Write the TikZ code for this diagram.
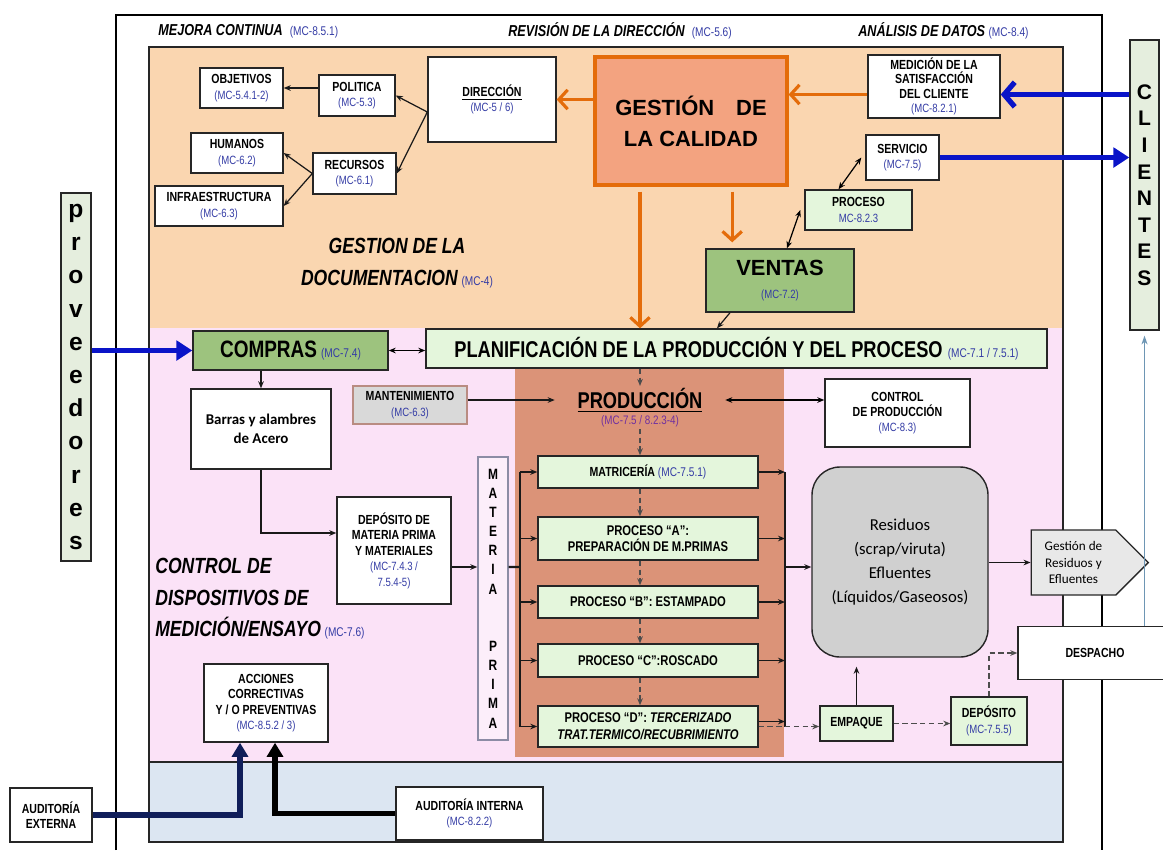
\documentclass[tikz,border=0pt]{standalone}
\usepackage{fontspec}
\setmainfont{Liberation Sans}
\newfontfamily\cond{Liberation Sans}[FakeStretch=0.8]
\newfontfamily\calib{Carlito}
\usetikzlibrary{arrows.meta,shapes.symbols,calc}

\definecolor{peach}{RGB}{250,214,176}
\definecolor{pinkbg}{RGB}{251,226,247}
\definecolor{bluebg}{RGB}{220,230,242}
\definecolor{prodcol}{RGB}{219,147,120}
\definecolor{gestfill}{RGB}{243,163,128}
\definecolor{gestline}{RGB}{228,108,10}
\definecolor{midgreen}{RGB}{157,195,126}
\definecolor{palegreen}{RGB}{228,246,220}
\definecolor{sidegreen}{RGB}{229,238,222}
\definecolor{mcblue}{RGB}{52,60,165}
\definecolor{mcpurple}{RGB}{112,48,160}
\definecolor{resgray}{RGB}{208,208,208}
\definecolor{lightgray}{RGB}{232,232,232}
\definecolor{navy}{RGB}{16,30,90}
\definecolor{arrowblue}{RGB}{10,20,200}
\definecolor{steel}{RGB}{110,150,180}

\newcommand\mc[1]{{\cond\mdseries\upshape\fontsize{6.8}{8}\selectfont\color{mcblue}#1}}
\newcommand\mcb[1]{{\cond\mdseries\upshape\fontsize{7.2}{8}\selectfont\color{mcblue}#1}}

\tikzset{
  box/.style={draw=black!85, line width=0.8pt, fill=white, align=center, inner sep=1pt,
    font=\cond\bfseries\fontsize{7.5}{8.7}\selectfont},
  sz/.style 2 args={minimum width=#1*0.02cm, minimum height=#2*0.02cm},
  gbox/.style={box, fill=palegreen},
  arr/.style={-{Stealth[length=4pt,width=3.2pt]}, line width=0.7pt, draw=black!90},
  barr/.style={{Stealth[length=4pt,width=3.2pt]}-{Stealth[length=4pt,width=3.2pt]}, line width=0.7pt},
  darr/.style={arr, dash pattern=on 3pt off 2pt, draw=black!70},
  orarr/.style={-{Straight Barb[length=5pt,width=11pt]}, line width=1.8pt, draw=gestline},
  bluearr/.style={-{Triangle[length=9pt,width=11pt]}, line width=3pt, draw=arrowblue},
  bus/.style={line width=1.4pt, draw=black!90},
  head/.style={font=\cond\bfseries\itshape\fontsize{9}{10}\selectfont, anchor=west, inner sep=0pt},
  bigital/.style={font=\cond\bfseries\itshape\fontsize{12.5}{18}\selectfont, inner sep=0pt},
}

\begin{document}
\begin{tikzpicture}[x=0.02cm, y=-0.02cm]
  \useasboundingbox (0,0) rectangle (1163,850);

    % Define the boundaries of the coloured regions
    \def\xl{149}    % left edge of the regions
    \def\xr{1063}   % right edge of the regions
    \def\ytop{47}   % top of the documentation region
    \def\ymid{328}  % documentation / production boundary
    \def\ylow{762}  % production / audit boundary
    \def\ybot{842}  % bottom of the audit region

    % -- Fill each region --
    \fill[peach]  (\xl,\ytop) rectangle (\xr,\ymid);
    \fill[pinkbg] (\xl,\ymid) rectangle (\xr,\ylow);
    \fill[bluebg] (\xl,\ylow) rectangle (\xr,\ybot);
    \fill[prodcol] (515,368) rectangle (784,757);   % production column
    \draw[line width=0.8pt, black!85] (\xl,\ytop) rectangle (\xr,\ybot);
    \draw[line width=0.8pt, black!85] (\xl,\ylow) -- (\xr,\ylow);

    % -- Outer frame --
    \draw[line width=0.8pt] (116,850) -- (116,15) -- (1102,15) -- (1102,850);

    % -- Header labels --
    \node[head] (mejora) at (158,31) {MEJORA CONTINUA\ \ \mcb{(MC-8.5.1)}};
    \node[head] (revision) at (508,31) {REVISIÓN DE LA DIRECCIÓN\ \ \mcb{(MC-5.6)}};
    \node[head] (analisis) at (858,31) {ANÁLISIS DE DATOS\ \mcb{(MC-8.4)}};

    % -- Region labels --
    \node[bigital, align=center] (gestdoc) at (397,263)
      {GESTION DE LA\\DOCUMENTACION\,\mcb{(MC-4)}};
    \node[bigital, align=left, anchor=north west] (ctrldisp) at (155,558)
      {CONTROL DE\\DISPOSITIVOS DE\\MEDICIÓN/ENSAYO\,\mcb{(MC-7.6)}};

    % -- Documentation region --
    \node[box, sz={83}{40}] (objetivos) at (241.5,88) {OBJETIVOS\\\mc{(MC-5.4.1-2)}};
    \node[box, sz={76}{41}] (politica) at (357,95.5) {POLITICA\\\mc{(MC-5.3)}};
    \node[box, sz={128}{85}] (direccion) at (492,99.5) {\underline{DIRECCIÓN}\\\mc{(MC-5 / 6)}};
    \node[box, sz={92}{40}] (humanos) at (237,153) {HUMANOS\\\mc{(MC-6.2)}};
    \node[box, sz={83}{41}] (recursos) at (354.5,173.5) {RECURSOS\\\mc{(MC-6.1)}};
    \node[box, sz={128}{40}] (infra) at (219,206) {INFRAESTRUCTURA\\\mc{(MC-6.3)}};
    \node[box, fill=gestfill, draw=gestline, line width=1.8pt, sz={192}{128},
      font=\bfseries\fontsize{12.5}{17.6}\selectfont] (gestion) at (691,121) {GESTIÓN\quad DE\\LA CALIDAD};
    \node[box, sz={132}{63}, font=\cond\bfseries\fontsize{7.5}{8.3}\selectfont] (medicion) at (934,86.5)
      {MEDICIÓN DE LA\\SATISFACCIÓN\\DEL CLIENTE\\\mc{(MC-8.2.1)}};
    \node[box, sz={73}{45}] (servicio) at (902.5,157.5) {SERVICIO\\\mc{(MC-7.5)}};
    \node[gbox, sz={107}{40}] (proceso) at (858.5,210) {PROCESO\\\mc{MC-8.2.3}};
    \node[box, fill=midgreen, sz={148}{63}, font=\bfseries\fontsize{12.5}{13}\selectfont] (ventas) at (780,280.5)
      {VENTAS\\\mc{(MC-7.2)}};

    % -- Side boxes --
    \node[box, fill=sidegreen, sz={29}{290}, font=\bfseries\fontsize{12}{15.1}\selectfont] (clientes) at (1144.5,185)
      {C\\L\\I\\E\\N\\T\\E\\S};
    \node[box, fill=sidegreen, sz={30}{368}, font=\bfseries\fontsize{14}{18.9}\selectfont] (proveedores) at (76,377)
      {p\\r\\o\\v\\e\\e\\d\\o\\r\\e\\s};

    % -- Production region --
    \node[box, fill=midgreen, sz={195}{39}, font=\cond\bfseries\fontsize{13.5}{14}\selectfont] (compras) at (290.5,350.5)
      {COMPRAS\,\mcb{(MC-7.4)}};
    \node[gbox, sz={621}{39}, font=\cond\bfseries\fontsize{13}{14}\selectfont] (planif) at (736.5,348.5)
      {PLANIFICACIÓN DE LA PRODUCCIÓN Y DEL PROCESO\ \mcb{(MC-7.1 / 7.5.1)}};
    \node[box, sz={140}{80}, font=\calib\bfseries\fontsize{8.5}{11}\selectfont] (barras) at (261,429)
      {Barras y alambres\\de Acero};
    \node[box, fill=black!15, draw={rgb,255:red,185;green,140;blue,130}, sz={114}{38}] (mant) at (410,405)
      {MANTENIMIENTO\\\mc{(MC-6.3)}};
    \node[font=\cond\bfseries\fontsize{13}{14}\selectfont, inner xsep=0.45cm, inner ysep=1pt] (prod) at (640,400)
      {\underline{PRODUCCIÓN}};
    \node[font=\cond\fontsize{7}{8}\selectfont, text=mcpurple, inner sep=1pt] (prodmc) at (640,421) {(MC-7.5 / 8.2.3-4)};
    \node[box, sz={145}{68}] (control) at (897.5,413) {CONTROL\\DE PRODUCCIÓN\\\mc{(MC-8.3)}};
    \node[box, fill={rgb,255:red,252;green,238;blue,250}, draw={rgb,255:red,140;green,140;blue,165}, sz={30}{283},
      font=\cond\bfseries\fontsize{8.5}{10.9}\selectfont] (materia) at (493,598.5)
      {M\\A\\T\\E\\R\\I\\A\\\mbox{}\\\mbox{}\\P\\R\\I\\M\\A};
    \node[box, sz={114}{107}, font=\cond\bfseries\fontsize{7.5}{8.8}\selectfont] (deposito) at (394,550.5)
      {DEPÓSITO DE\\MATERIA PRIMA\\Y MATERIALES\\\mc{(MC-7.4.3 /}\\\mc{7.5.4-5)}};

    % -- Process boxes --
    \node[gbox, sz={220}{32}] (matriceria) at (648,472) {MATRICERÍA \mcb{(MC-7.5.1)}};
    \node[gbox, sz={220}{43}, font=\cond\bfseries\fontsize{8}{9.5}\selectfont] (procA) at (648,538.5)
      {PROCESO “A”:\\PREPARACIÓN DE M.PRIMAS};
    \node[gbox, sz={220}{32}, font=\cond\bfseries\fontsize{8}{9.5}\selectfont] (procB) at (648,602) {PROCESO “B”: ESTAMPADO};
    \node[gbox, sz={220}{33}, font=\cond\bfseries\fontsize{8}{9.5}\selectfont] (procC) at (648,660.5) {PROCESO “C”:ROSCADO};
    \node[gbox, sz={220}{41}, font=\cond\bfseries\fontsize{8}{9.5}\selectfont] (procD) at (648,726.5)
      {PROCESO “D”: \textit{TERCERIZADO}\\\textit{TRAT.TERMICO/RECUBRIMIENTO}};

    % -- Output side --
    \node[box, fill=resgray, rounded corners=0.56cm, sz={176}{190}, font=\calib\fontsize{9.5}{13.5}\selectfont]
      (residuos) at (900,562) {Residuos\\(scrap/viruta)\\Efluentes\\(Líquidos/Gaseosos)};
    \node[box, fill=lightgray, signal, signal to=east, signal pointer angle=90, sz={117}{65},
      font=\calib\fontsize{7.5}{9.5}\selectfont] (gestres) at (1073.5,562.5) {Gestión de\\Residuos y\\Efluentes};
    \node[box, sz={154}{53}] (despacho) at (1095,653) {DESPACHO};
    \node[gbox, sz={73}{35}] (empaque) at (856.5,723.5) {EMPAQUE};
    \node[gbox, sz={76}{48}] (deposito2) at (989,721) {DEPÓSITO\\\mc{(MC-7.5.5)}};

    % -- Audit region --
    \node[box, sz={124}{78}] (acciones) at (266,703)
      {ACCIONES\\CORRECTIVAS\\Y / O PREVENTIVAS\\\mc{(MC-8.5.2 / 3)}};
    \node[box, sz={82}{54}] (audext) at (51,815) {AUDITORÍA\\EXTERNA};
    \node[box, sz={147}{53}] (audint) at (469.5,813.5) {AUDITORÍA INTERNA\\\mc{(MC-8.2.2)}};

    % -- Connectors in the documentation region --
    \draw[orarr] (gestion.west |- direccion.east) -- (direccion.east);
    \draw[orarr] ([yshift=-0.16cm]medicion.west) -- ([yshift=-0.16cm]medicion.west -| gestion.east);
    \draw[orarr, shorten <=0.1cm] (gestion.south -| prod) -- (planif.north -| prod);
    \coordinate (vtop) at ($(ventas.north west)!0.18!(ventas.north east)$);
    \draw[orarr, shorten <=0.1cm, shorten >=0.12cm] (gestion.south -| vtop) -- (vtop);
    \draw[arr] ([yshift=-0.25cm]direccion.west) -- (politica.east);
    \draw[arr] ([yshift=-0.25cm]direccion.west) -- (recursos.east);
    \draw[arr] (politica.west |- objetivos) -- (objetivos.east);
    \draw[arr] (recursos.west) -- (humanos.east);
    \draw[arr] (recursos.west) -- (infra.east);
    \draw[barr] ([xshift=-0.08cm]servicio.west) -- ([xshift=-0.4cm]proceso.north);
    \draw[barr] ([xshift=-0.08cm]proceso.west) -- ([xshift=0.14cm]ventas.north);
    \draw[arr] ([xshift=-1cm]ventas.south) -- ([xshift=-0.39cm]planif.north);

    % -- Customer and supplier arrows --
    \draw[-{Straight Barb[length=6pt,width=14pt]}, line width=3pt, arrowblue]
      ([yshift=-0.16cm]medicion.east -| clientes.west) -- ([yshift=-0.16cm]medicion.east);
    \draw[bluearr] (servicio.east) -- (servicio.east -| clientes.west);
    \draw[bluearr] (proveedores.east |- compras) -- (compras.west);
    \draw[-{Stealth[length=5pt,width=3.5pt]}, line width=0.6pt, steel, shorten >=0.1cm]
      (despacho.north -| clientes) -- (clientes.south);

    % -- Connectors in the production region --
    \draw[barr] (compras.east) -- (compras.east -| planif.west);
    \draw[arr] (compras.south -| barras) -- (barras.north);
    \draw[arr] (barras.south) |- ([yshift=0.35cm]deposito.west);
    \draw[arr] ([yshift=-0.33cm]deposito.east) -- ([yshift=-0.33cm]deposito.east -| materia.west);
    \draw[arr] (mant.east |- prod) -- (prod.west);
    \draw[barr] (prod.east) -- (prod.east -| control.west);
    \draw[darr] (planif.south -| prod) -- (prod.north);
    \draw[darr] (prodmc.south) -- (matriceria.north -| prodmc);
    \draw[darr] (matriceria.south -| prod) -- (procA.north -| prod);
    \draw[darr] (procA.south -| prod) -- (procB.north -| prod);
    \draw[darr] (procB.south -| prod) -- (procC.north -| prod);
    \draw[darr] (procC.south -| prod) -- (procD.north -| prod);

    % -- Raw material bus on the left --
    \coordinate (lbus) at (520,567);
    \draw[bus] ([yshift=-0.33cm]deposito.east -| materia.east) -- (lbus);
    \draw[bus] (lbus |- matriceria) -- (lbus |- procD);
    \draw[arr] (lbus |- matriceria) -- (matriceria.west);
    \draw[arr] (lbus |- procA) -- (procA.west);
    \draw[arr] (lbus |- procB) -- (procB.west);
    \draw[arr] (lbus |- procC) -- (procC.west);
    \draw[arr] (lbus |- procD) -- (procD.west);

    % -- Waste bus on the right --
    \coordinate (rbus) at (785,567);
    \draw[bus] (rbus |- matriceria) -- (rbus |- procD);
    \draw[arr] (matriceria.east) -- (rbus |- matriceria);
    \draw[arr] (procA.east) -- (rbus |- procA);
    \draw[arr] (procB.east) -- (rbus |- procB);
    \draw[arr] (procC.east) -- (rbus |- procC);
    \draw[arr] ([yshift=0.1cm]procD.east) -- ([yshift=0.1cm]procD.east -| rbus);
    \draw[arr] (rbus) -- (rbus -| residuos.west);
    \draw[arr] (residuos.east |- gestres) -- (gestres.west);

    % -- Packing and dispatch --
    \draw[darr] (procD.east) -- (procD.east -| empaque.west);
    \draw[arr, shorten >=0.18cm] (empaque.north) -- (empaque.north |- residuos.south);
    \draw[darr] (empaque.east) -- (empaque.east -| deposito2.west);
    \draw[darr] (deposito2.north) |- (despacho.west);

    % -- Audit arrows --
    \draw[-{Triangle[length=8pt,width=9pt]}, line width=3.2pt, navy]
      (audext.east) -| ([xshift=-0.52cm]acciones.south);
    \draw[-{Triangle[length=8pt,width=9pt]}, line width=3.2pt, black]
      (audint.west) -| ([xshift=0.18cm]acciones.south);

\end{tikzpicture}
\end{document}
